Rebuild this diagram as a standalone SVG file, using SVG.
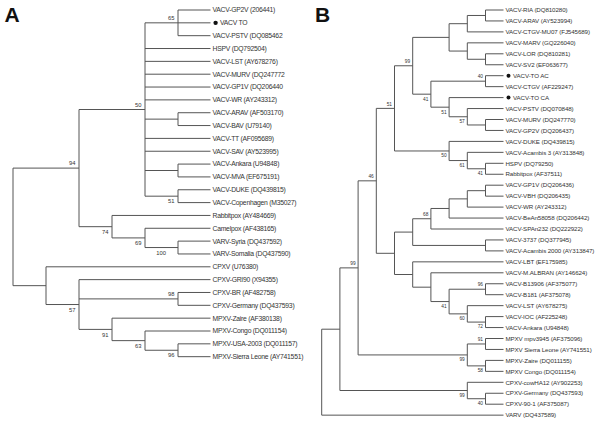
<svg xmlns="http://www.w3.org/2000/svg" width="600" height="425" viewBox="0 0 600 425">
<style>
.br{fill:none;stroke:#555;stroke-width:1}
.la{font-family:"Liberation Sans",Arial,sans-serif;font-size:6.8px;letter-spacing:-0.25px;fill:#333}
.lb{font-family:"Liberation Sans",Arial,sans-serif;font-size:6.2px;letter-spacing:-0.1px;fill:#333}
.ba{font-family:"Liberation Sans",Arial,sans-serif;font-size:5.8px;fill:#333;text-anchor:end}
.bb{font-family:"Liberation Sans",Arial,sans-serif;font-size:4.8px;fill:#333;text-anchor:end}
.pl{font-family:"Liberation Sans",Arial,sans-serif;font-size:21px;font-weight:bold;fill:#111}
.dot{fill:#111}
</style>
<rect width="600" height="425" fill="#fff"/>
<text class="pl" x="4.5" y="22">A</text>
<text class="pl" x="315" y="22">B</text>
<g id="connectors">
<path class="br" d="M178 10H210.5M145 22.84H210.5M178 35.68H210.5M178 10V35.68M145 48.52H210.5M145 61.36H210.5M145 74.2H210.5M145 87.04H210.5M145 99.88H210.5M178 112.72H210.5M178 125.56H210.5M178 112.72V125.56M145 119.14H178M145 138.4H210.5M145 151.24H210.5M178 164.08H210.5M178 176.92H210.5M178 164.08V176.92M145 170.5H178M178 189.76H210.5M178 202.6H210.5M178 189.76V202.6M145 196.18H178M145 22.84V196.18M79 109.51H145M112 215.44H210.5M145 228.28H210.5M178 241.12H210.5M178 253.96H210.5M178 241.12V253.96M145 247.54H178M145 228.28V247.54M112 237.91H145M112 215.44V237.91M79 226.68H112M79 109.51V226.68M13 168.1H79M46 266.8H210.5M79 279.64H210.5M178 292.48H210.5M178 305.32H210.5M178 292.48V305.32M79 298.9H178M112 318.16H210.5M145 331H210.5M178 343.84H210.5M178 356.68H210.5M178 343.84V356.68M145 350.26H178M145 331V350.26M112 340.63H145M112 318.16V340.63M79 329.4H112M79 279.64V329.4M46 304.52H79M46 266.8V304.52M13 285.66H46M13 168.1V285.66"/>
<path class="br" d="M485.5 10H503.5M485.5 20.95H503.5M485.5 10V20.95M467.3 15.48H485.5M467.3 31.9H503.5M467.3 15.48V31.9M449.1 23.69H467.3M467.3 42.85H503.5M485.5 53.8H503.5M485.5 64.75H503.5M485.5 53.8V64.75M467.3 59.28H485.5M467.3 42.85V59.28M449.1 51.06H467.3M449.1 23.69V51.06M412.7 37.38H449.1M485.5 75.7H503.5M485.5 86.65H503.5M485.5 75.7V86.65M430.9 81.18H485.5M449.1 97.6H503.5M467.3 108.55H503.5M485.5 119.5H503.5M485.5 130.45H503.5M485.5 119.5V130.45M467.3 124.98H485.5M467.3 108.55V124.98M449.1 116.76H467.3M449.1 97.6V116.76M430.9 107.18H449.1M430.9 81.18V107.18M412.7 94.18H430.9M412.7 37.38V94.18M394.5 65.78H412.7M449.1 141.4H503.5M467.3 152.35H503.5M485.5 163.3H503.5M485.5 174.25H503.5M485.5 163.3V174.25M467.3 168.78H485.5M467.3 152.35V168.78M449.1 160.56H467.3M449.1 141.4V160.56M394.5 150.98H449.1M394.5 65.78V150.98M376.3 108.38H394.5M485.5 185.2H503.5M485.5 196.15H503.5M485.5 185.2V196.15M467.3 190.68H485.5M467.3 207.1H503.5M467.3 190.68V207.1M449.1 198.89H467.3M449.1 218.05H503.5M449.1 198.89V218.05M430.9 208.47H449.1M430.9 229H503.5M430.9 208.47V229M412.7 218.74H430.9M485.5 239.95H503.5M485.5 250.9H503.5M485.5 239.95V250.9M412.7 245.43H485.5M412.7 218.74V245.43M394.5 232.08H412.7M412.7 261.85H503.5M430.9 272.8H503.5M485.5 283.75H503.5M485.5 294.7H503.5M485.5 283.75V294.7M449.1 289.23H485.5M467.3 305.65H503.5M485.5 316.6H503.5M485.5 327.55H503.5M485.5 316.6V327.55M467.3 322.08H485.5M467.3 305.65V322.08M449.1 313.86H467.3M449.1 289.23V313.86M430.9 301.55H449.1M430.9 272.8V301.55M412.7 287.18H430.9M412.7 261.85V287.18M394.5 274.51H412.7M394.5 232.08V274.51M376.3 253.3H394.5M376.3 108.38V253.3M358.1 180.84H376.3M485.5 338.5H503.5M485.5 349.45H503.5M485.5 338.5V349.45M467.3 343.98H485.5M485.5 360.4H503.5M485.5 371.35H503.5M485.5 360.4V371.35M467.3 365.88H485.5M467.3 343.98V365.88M358.1 354.93H467.3M358.1 180.84V354.93M339.9 267.88H358.1M467.3 382.3H503.5M485.5 393.25H503.5M485.5 404.2H503.5M485.5 393.25V404.2M467.3 398.73H485.5M467.3 382.3V398.73M339.9 390.51H467.3M339.9 267.88V390.51M321.7 329.2H339.9M321.7 415.15H503.5M321.7 329.2V415.15"/>
</g>
<g id="panelA-leaves">
<g id="a0"><text class="la" x="212.5" y="12.4">VACV-GP2V (206441)</text></g>
<g id="a1"><circle class="dot" cx="215.6" cy="22.84" r="2.2"/><text class="la" x="220" y="25.24">VACV TO</text></g>
<g id="a2"><text class="la" x="212.5" y="38.08">VACV-PSTV (DQ085462</text></g>
<g id="a3"><text class="la" x="212.5" y="50.92">HSPV (DQ792504)</text></g>
<g id="a4"><text class="la" x="212.5" y="63.76">VACV-LST (AY678276)</text></g>
<g id="a5"><text class="la" x="212.5" y="76.6">VACV-MURV (DQ247772</text></g>
<g id="a6"><text class="la" x="212.5" y="89.44">VACV-GP1V (DQ206440</text></g>
<g id="a7"><text class="la" x="212.5" y="102.28">VACV-WR (AY243312)</text></g>
<g id="a8"><text class="la" x="212.5" y="115.12">VACV-ARAV (AF503170)</text></g>
<g id="a9"><text class="la" x="212.5" y="127.96">VACV-BAV (U79140)</text></g>
<g id="a10"><text class="la" x="212.5" y="140.8">VACV-TT (AF095689)</text></g>
<g id="a11"><text class="la" x="212.5" y="153.64">VACV-SAV (AY523995)</text></g>
<g id="a12"><text class="la" x="212.5" y="166.48">VACV-Ankara (U94848)</text></g>
<g id="a13"><text class="la" x="212.5" y="179.32">VACV-MVA (EF675191)</text></g>
<g id="a14"><text class="la" x="212.5" y="192.16">VACV-DUKE (DQ439815)</text></g>
<g id="a15"><text class="la" x="212.5" y="205">VACV-Copenhagen (M35027)</text></g>
<g id="a16"><text class="la" x="212.5" y="217.84">Rabbitpox (AY484669)</text></g>
<g id="a17"><text class="la" x="212.5" y="230.68">Camelpox (AF438165)</text></g>
<g id="a18"><text class="la" x="212.5" y="243.52">VARV-Syria (DQ437592)</text></g>
<g id="a19"><text class="la" x="212.5" y="256.36">VARV-Somalia (DQ437590)</text></g>
<g id="a20"><text class="la" x="212.5" y="269.2">CPXV (U76380)</text></g>
<g id="a21"><text class="la" x="212.5" y="282.04">CPXV-GRI90 (X94355)</text></g>
<g id="a22"><text class="la" x="212.5" y="294.88">CPXV-BR (AF482758)</text></g>
<g id="a23"><text class="la" x="212.5" y="307.72">CPXV-Germany (DQ437593)</text></g>
<g id="a24"><text class="la" x="212.5" y="320.56">MPXV-Zaire (AF380138)</text></g>
<g id="a25"><text class="la" x="212.5" y="333.4">MPXV-Congo (DQ011154)</text></g>
<g id="a26"><text class="la" x="212.5" y="346.24">MPXV-USA-2003 (DQ011157)</text></g>
<g id="a27"><text class="la" x="212.5" y="359.08">MPXV-Sierra Leone (AY741551)</text></g>
</g>
<g id="panelA-support">
<text class="ba" x="174.5" y="20.1">65</text>
<text class="ba" x="141.5" y="106.8">50</text>
<text class="ba" x="174.5" y="203.3">51</text>
<text class="ba" x="75.5" y="165.4">94</text>
<text class="ba" x="166" y="254.6">100</text>
<text class="ba" x="141.5" y="245">69</text>
<text class="ba" x="108.5" y="233.8">74</text>
<text class="ba" x="174.5" y="296.2">98</text>
<text class="ba" x="75.5" y="311.6">57</text>
<text class="ba" x="108.5" y="336.5">91</text>
<text class="ba" x="141.5" y="347.7">63</text>
<text class="ba" x="174.5" y="357.4">96</text>
</g>
<g id="panelB-leaves">
<g id="b0"><text class="lb" x="505.5" y="12.2">VACV-RIA (DQ810280)</text></g>
<g id="b1"><text class="lb" x="505.5" y="23.15">VACV-ARAV (AY523994)</text></g>
<g id="b2"><text class="lb" x="505.5" y="34.1">VACV-CTGV-MU07 (FJ545689)</text></g>
<g id="b3"><text class="lb" x="505.5" y="45.05">VACV-MARV (GQ226040)</text></g>
<g id="b4"><text class="lb" x="505.5" y="56">VACV-LOR (DQ810281)</text></g>
<g id="b5"><text class="lb" x="505.5" y="66.95">VACV-SV2 (EF063677)</text></g>
<g id="b6"><circle class="dot" cx="508.5" cy="75.7" r="2"/><text class="lb" x="513" y="77.9">VACV-TO AC</text></g>
<g id="b7"><text class="lb" x="505.5" y="88.85">VACV-CTGV (AF229247)</text></g>
<g id="b8"><circle class="dot" cx="508.5" cy="97.6" r="2"/><text class="lb" x="513" y="99.8">VACV-TO CA</text></g>
<g id="b9"><text class="lb" x="505.5" y="110.75">VACV-PSTV (DQ070848)</text></g>
<g id="b10"><text class="lb" x="505.5" y="121.7">VACV-MURV (DQ247770)</text></g>
<g id="b11"><text class="lb" x="505.5" y="132.65">VACV-GP2V (DQ206437)</text></g>
<g id="b12"><text class="lb" x="505.5" y="143.6">VACV-DUKE (DQ439815)</text></g>
<g id="b13"><text class="lb" x="505.5" y="154.55">VACV-Acambis 3 (AY313848)</text></g>
<g id="b14"><text class="lb" x="505.5" y="165.5">HSPV (DQ79250)</text></g>
<g id="b15"><text class="lb" x="505.5" y="176.45">Rabbitpox (AF37511)</text></g>
<g id="b16"><text class="lb" x="505.5" y="187.4">VACV-GP1V (DQ206436)</text></g>
<g id="b17"><text class="lb" x="505.5" y="198.35">VACV-VBH (DQ206435)</text></g>
<g id="b18"><text class="lb" x="505.5" y="209.3">VACV-WR (AY243312)</text></g>
<g id="b19"><text class="lb" x="505.5" y="220.25">VACV-BeAn58058 (DQ206442)</text></g>
<g id="b20"><text class="lb" x="505.5" y="231.2">VACV-SPAn232 (DQ222922)</text></g>
<g id="b21"><text class="lb" x="505.5" y="242.15">VACV-3737 (DQ377945)</text></g>
<g id="b22"><text class="lb" x="505.5" y="253.1">VACV-Acambis 2000 (AY313847)</text></g>
<g id="b23"><text class="lb" x="505.5" y="264.05">VACV-LBT (EF175985)</text></g>
<g id="b24"><text class="lb" x="505.5" y="275">VACV-M.ALBRAN (AY146624)</text></g>
<g id="b25"><text class="lb" x="505.5" y="285.95">VACV-B13906 (AF375077)</text></g>
<g id="b26"><text class="lb" x="505.5" y="296.9">VACV-B181 (AF375078)</text></g>
<g id="b27"><text class="lb" x="505.5" y="307.85">VACV-LST (AY678275)</text></g>
<g id="b28"><text class="lb" x="505.5" y="318.8">VACV-IOC (AF225248)</text></g>
<g id="b29"><text class="lb" x="505.5" y="329.75">VACV-Ankara (U94848)</text></g>
<g id="b30"><text class="lb" x="505.5" y="340.7">MPXV mpv3945 (AF375096)</text></g>
<g id="b31"><text class="lb" x="505.5" y="351.65">MPXV Sierra Leone (AY741551)</text></g>
<g id="b32"><text class="lb" x="505.5" y="362.6">MPXV-Zaire (DQ011155)</text></g>
<g id="b33"><text class="lb" x="505.5" y="373.55">MPXV Congo (DQ011154)</text></g>
<g id="b34"><text class="lb" x="505.5" y="384.5">CPXV-cowHA12 (AY902253)</text></g>
<g id="b35"><text class="lb" x="505.5" y="395.45">CPXV-Germany (DQ437593)</text></g>
<g id="b36"><text class="lb" x="505.5" y="406.4">CPXV-90-1 (AF375087)</text></g>
<g id="b37"><text class="lb" x="505.5" y="417.35">VARV (DQ437589)</text></g>
</g>
<g id="panelB-support">
<text class="bb" x="483" y="78.4">40</text>
<text class="bb" x="464.8" y="123.1">57</text>
<text class="bb" x="446.6" y="113.5">51</text>
<text class="bb" x="428.4" y="100.5">41</text>
<text class="bb" x="410.2" y="63">99</text>
<text class="bb" x="483" y="175.1">41</text>
<text class="bb" x="464.8" y="166.9">61</text>
<text class="bb" x="446.6" y="157.3">50</text>
<text class="bb" x="392" y="105.6">51</text>
<text class="bb" x="428.4" y="215.9">68</text>
<text class="bb" x="483" y="286.4">96</text>
<text class="bb" x="483" y="328.4">72</text>
<text class="bb" x="464.8" y="320.2">60</text>
<text class="bb" x="446.6" y="307.9">41</text>
<text class="bb" x="373.8" y="178">46</text>
<text class="bb" x="483" y="341.2">91</text>
<text class="bb" x="483" y="372.2">58</text>
<text class="bb" x="464.8" y="361.2">99</text>
<text class="bb" x="355.6" y="265.1">99</text>
<text class="bb" x="483" y="405">40</text>
<text class="bb" x="464.8" y="396.8">99</text>
</g>
</svg>
